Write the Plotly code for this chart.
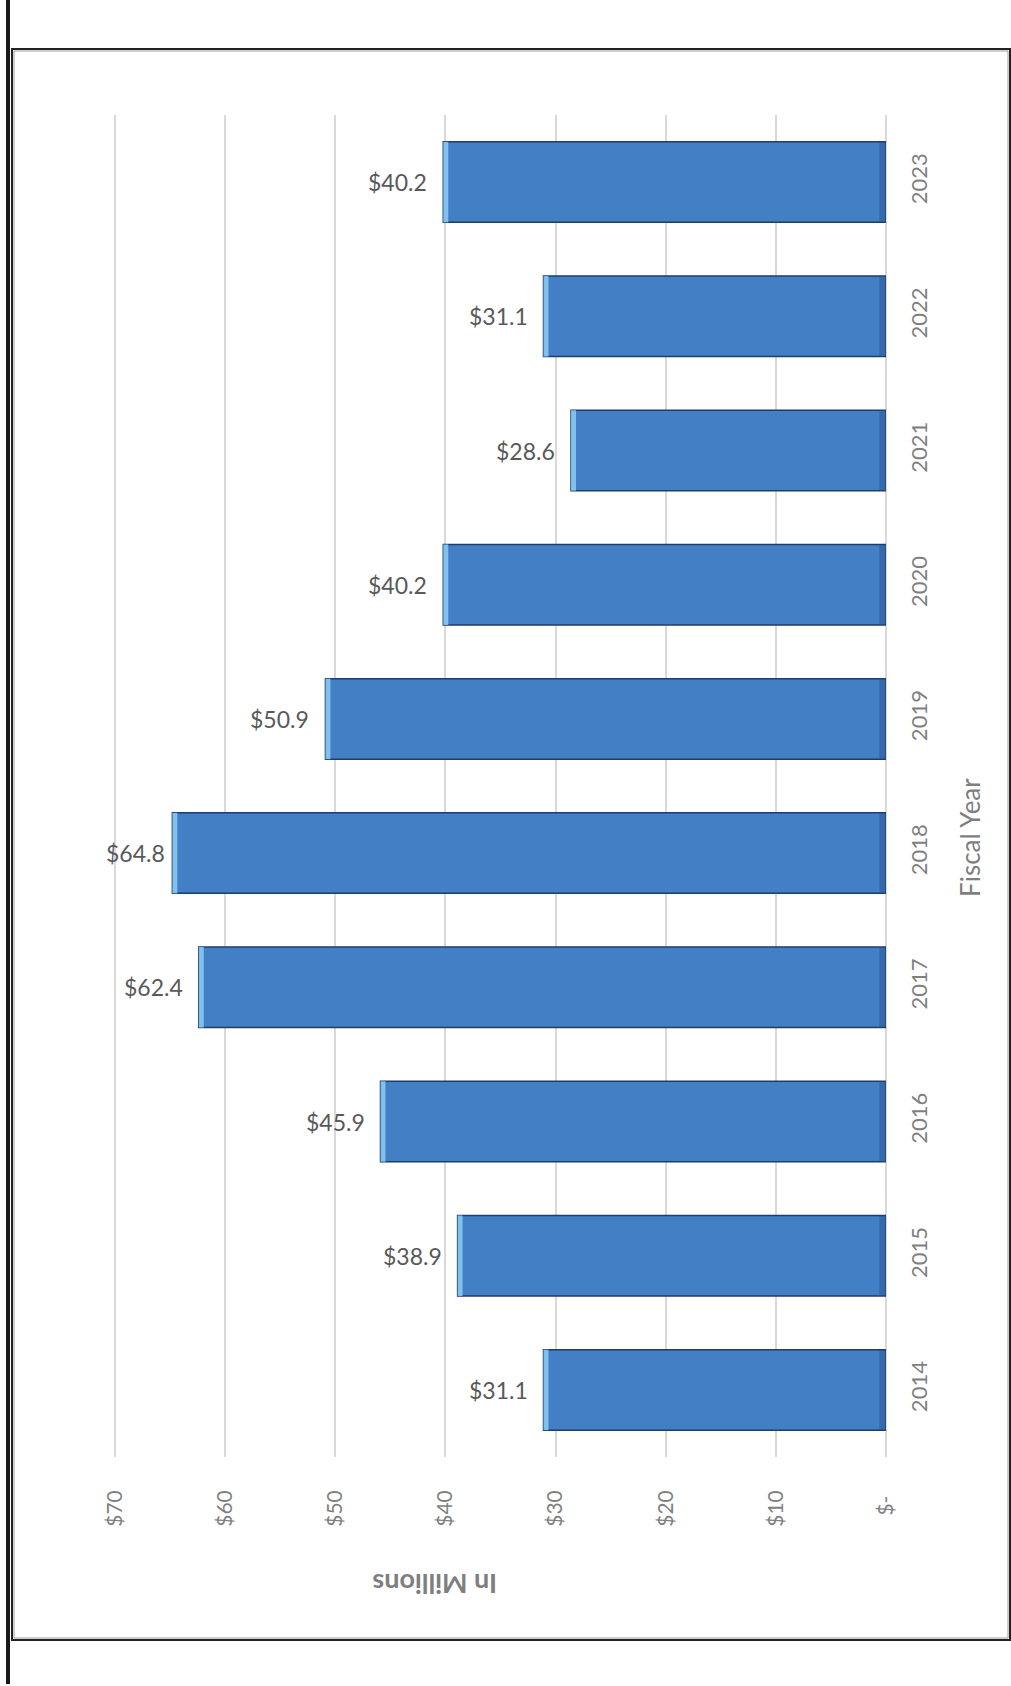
import plotly.graph_objects as go

# Fiscal-year totals, in millions of dollars
years = ["2014", "2015", "2016", "2017", "2018", "2019", "2020", "2021", "2022", "2023"]
amounts = [31.1, 38.9, 45.9, 62.4, 64.8, 50.9, 40.2, 28.6, 31.1, 40.2]
value_ticks = [0, 10, 20, 30, 40, 50, 60, 70]
value_tick_text = ["$-\u00a0", "$10", "$20", "$30", "$40", "$50", "$60", "$70"]

W, H = 1011, 1686
FONT = "Lato, 'Open Sans', sans-serif"


def px_x(x):
    return x / W


def px_y(y):
    return 1 - y / H


fig = go.Figure()

# main bars
fig.add_trace(go.Bar(
    y=years, x=amounts, orientation="h",
    marker=dict(color="#437fc5", line=dict(color="#1f3c6b", width=1.5)),
    hoverinfo="skip", showlegend=False,
))

# darker shading toward the baseline end of each bar
fig.add_trace(go.Bar(
    y=years, x=[0.6] * len(amounts), orientation="h",
    marker=dict(color="rgba(35,80,140,0.45)", line=dict(width=0)),
    hoverinfo="skip", showlegend=False,
))

# light bevel at the outer end of each bar
fig.add_trace(go.Bar(
    y=years, x=[0.45] * len(amounts), base=[a - 0.45 for a in amounts],
    orientation="h",
    marker=dict(color="rgba(140,205,245,0.85)", line=dict(width=0)),
    hoverinfo="skip", showlegend=False,
))

# value labels beside the bar ends (category index used for the position);
# labels close to the axis maximum are tucked in nearer the bar
axis_max = max(value_ticks)
annotations = []
for i, a in enumerate(amounts):
    gap = 5 if a > 0.9 * axis_max else 14
    annotations.append(dict(
        x=a, y=i, xref="x", yref="y", text=f"${a:.1f}",
        showarrow=False, xanchor="right", yanchor="middle", xshift=-gap,
        font=dict(family=FONT, size=23, color="#595959"),
    ))

# axis titles
annotations.append(dict(
    x=px_x(435), y=px_y(1585), xref="paper", yref="paper",
    text="<b>In Millions</b>", showarrow=False, textangle=180,
    xanchor="center", yanchor="middle",
    font=dict(family=FONT, size=27, color="#7f7f7f"),
))
annotations.append(dict(
    x=px_x(970), y=px_y(838), xref="paper", yref="paper",
    text="Fiscal Year", showarrow=False, textangle=-90,
    xanchor="center", yanchor="middle",
    font=dict(family=FONT, size=26, color="#7f7f7f"),
))

shapes = [
    # outer frame (dark line with a lighter inner line)
    dict(type="rect", xref="paper", yref="paper",
         x0=px_x(12), x1=px_x(1010), y0=px_y(1640), y1=px_y(49),
         line=dict(color="#222222", width=2)),
    dict(type="rect", xref="paper", yref="paper",
         x0=px_x(14), x1=px_x(1008), y0=px_y(1638), y1=px_y(51),
         line=dict(color="#9a9a9a", width=1)),
    # heavy rule along the left edge
    dict(type="line", xref="paper", yref="paper",
         x0=px_x(8), x1=px_x(8), y0=px_y(1684), y1=px_y(0),
         line=dict(color="#1a1a1a", width=4)),
]

fig.update_layout(
    width=W, height=H,
    margin=dict(l=0, r=0, t=0, b=0),
    autosize=False,
    paper_bgcolor="white", plot_bgcolor="white",
    barmode="overlay", bargap=0.4,
    annotations=annotations, shapes=shapes,
    xaxis=dict(
        domain=[px_x(114), px_x(886)],
        range=[70.1, 0],
        tickmode="array", tickvals=value_ticks, ticktext=value_tick_text,
        tickangle=-90,
        tickfont=dict(family=FONT, size=21, color="#7f7f7f"),
        showgrid=True, gridcolor="#d9d9d9", gridwidth=1.5,
        zeroline=True, zerolinecolor="#d9d9d9", zerolinewidth=1.5,
        showline=False, ticks="", ticklabelstandoff=28,
        automargin=False, fixedrange=True,
    ),
    yaxis=dict(
        domain=[px_y(1457), px_y(115)],
        type="category", categoryorder="array", categoryarray=years,
        range=[-0.5, len(years) - 0.5],
        side="right",
        tickangle=-90,
        tickfont=dict(family=FONT, size=22, color="#7f7f7f"),
        showgrid=False, zeroline=False, showline=False, ticks="",
        ticklabelstandoff=18,
        automargin=False, fixedrange=True,
    ),
)

fig.write_html("out.html")
